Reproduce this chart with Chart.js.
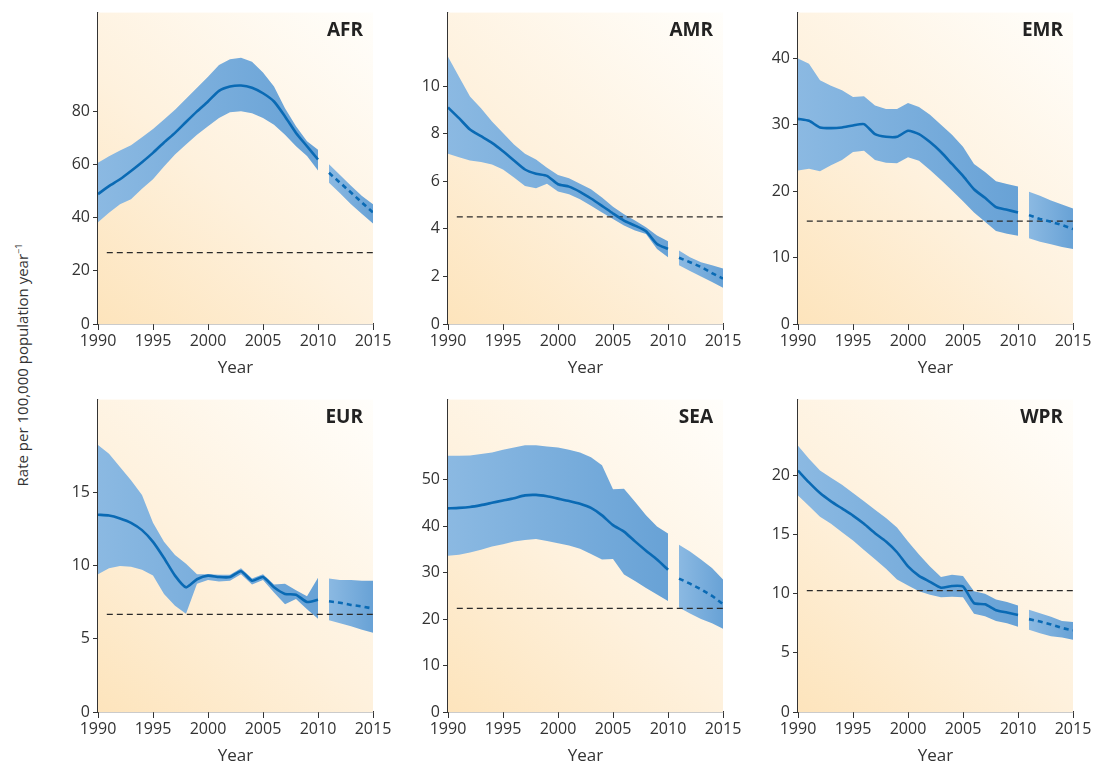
<!DOCTYPE html>
<html lang="en">
<head>
<meta charset="UTF-8">
<title>Rate per 100,000 population by WHO region</title>
<script src="https://cdn.jsdelivr.net/npm/chart.js"></script>
<style>
  html, body { margin: 0; padding: 0; background: #fff; overflow: hidden; }
  body { width: 1104px; height: 765px; position: relative; font-family: "Open Sans", sans-serif; }
  .panel { position: absolute; }
  #yTitle {
    position: absolute; left: 22px; top: 365px;
    transform: translate(-50%, -50%) rotate(-90deg);
    white-space: nowrap; font-size: 15px; color: #333;
  }
  #yTitle sup { font-size: 9px; }
</style>
</head>
<body>
<div id="yTitle">Rate per 100,000 population year<sup>−1</sup></div>
<canvas id="cAFR" class="panel"></canvas>
<canvas id="cAMR" class="panel"></canvas>
<canvas id="cEMR" class="panel"></canvas>
<canvas id="cEUR" class="panel"></canvas>
<canvas id="cSEA" class="panel"></canvas>
<canvas id="cWPR" class="panel"></canvas>
<script>
// years
const histYears = [1990, 1991, 1992, 1993, 1994, 1995, 1996, 1997, 1998, 1999, 2000,
                   2001, 2002, 2003, 2004, 2005, 2006, 2007, 2008, 2009, 2010];
const projYears = [2011, 2012, 2013, 2014, 2015];
const xTicks = [1990, 1995, 2000, 2005, 2010, 2015];

// AFR
const afrMean = [48.8, 51.8, 54.4, 57.5, 60.8, 64.3, 68.2, 71.8, 75.9, 79.9, 83.6, 87.6, 89.2, 89.6, 88.8, 86.7, 83.6, 78, 71.8, 66.8, 61.8];
const afrHigh = [60.6, 63, 65.2, 67.2, 70.2, 73.3, 76.8, 80.5, 84.6, 88.8, 92.9, 97.3, 99.5, 100, 98.5, 94.5, 89.2, 81.1, 74.3, 68.7, 65.5];
const afrLow  = [38.2, 41.8, 45, 46.9, 50.8, 54.4, 59.2, 63.7, 67.4, 71.1, 74.3, 77.4, 79.6, 79.9, 79.2, 77.4, 74.9, 71.1, 66.8, 63.1, 57.7];
const afrProjMean = [56.8, 53.1, 49.4, 45.6, 41.9];
const afrProjHigh = [60, 56, 51.9, 48.1, 45];
const afrProjLow  = [53.1, 49.1, 45, 41.3, 37.8];
const afrTarget = 26.8;
const afrTicks = [0, 20, 40, 60, 80];

// AMR
const amrMean = [9.11, 8.66, 8.18, 7.9, 7.62, 7.27, 6.88, 6.5, 6.32, 6.23, 5.88, 5.78, 5.56, 5.28, 4.97, 4.65, 4.35, 4.14, 3.9, 3.37, 3.16];
const amrHigh = [11.24, 10.4, 9.57, 9.08, 8.52, 8.04, 7.55, 7.16, 6.92, 6.57, 6.27, 6.13, 5.9, 5.67, 5.32, 4.93, 4.62, 4.35, 4.07, 3.72, 3.48];
const amrLow  = [7.16, 7.02, 6.88, 6.82, 6.71, 6.5, 6.16, 5.81, 5.71, 5.9, 5.57, 5.46, 5.25, 4.97, 4.69, 4.42, 4.14, 3.93, 3.79, 3.16, 2.81];
const amrProjMean = [2.79, 2.6, 2.4, 2.14, 1.91];
const amrProjHigh = [3.09, 2.81, 2.6, 2.47, 2.33];
const amrProjLow  = [2.47, 2.23, 2.0, 1.77, 1.53];
const amrTarget = 4.51;
const amrTicks = [0, 2, 4, 6, 8, 10];

// EMR
const emrMean = [30.9, 30.6, 29.6, 29.5, 29.6, 29.9, 30.1, 28.6, 28.2, 28.2, 29.1, 28.6, 27.4, 25.9, 24.1, 22.3, 20.3, 19, 17.6, 17.2, 16.8];
const emrHigh = [40, 39.2, 36.7, 35.9, 35.2, 34.2, 34.3, 32.9, 32.4, 32.4, 33.3, 32.7, 31.5, 30, 28.5, 26.7, 24.1, 22.9, 21.5, 21.1, 20.7];
const emrLow  = [23.1, 23.4, 23, 23.9, 24.7, 25.9, 26.1, 24.7, 24.3, 24.2, 25.1, 24.6, 23.2, 21.7, 20.1, 18.5, 16.8, 15.4, 14, 13.6, 13.3];
const emrProjMean = [16.4, 15.8, 15.4, 14.9, 14.3];
const emrProjHigh = [19.9, 19.3, 18.6, 18, 17.4];
const emrProjLow  = [12.9, 12.4, 12, 11.6, 11.3];
const emrTarget = 15.5;
const emrTicks = [0, 10, 20, 30, 40];

// EUR
const eurMean = [13.45, 13.4, 13.2, 12.9, 12.4, 11.6, 10.5, 9.3, 8.5, 9.05, 9.3, 9.2, 9.2, 9.6, 8.95, 9.2, 8.5, 8.05, 8, 7.5, 7.65];
const eurHigh = [18.2, 17.6, 16.7, 15.8, 14.8, 12.9, 11.6, 10.7, 10.1, 9.4, 9.4, 9.35, 9.35, 9.8, 9.1, 9.4, 8.7, 8.75, 8.3, 7.9, 9.15];
const eurLow  = [9.4, 9.8, 9.95, 9.9, 9.7, 9.3, 8.05, 7.25, 6.7, 8.75, 9, 8.9, 8.95, 9.4, 8.7, 9, 8.15, 7.35, 7.7, 7, 6.35];
const eurProjMean = [7.55, 7.45, 7.3, 7.2, 7.05];
const eurProjHigh = [9.1, 9, 9, 8.95, 8.95];
const eurProjLow  = [6.25, 6.05, 5.85, 5.6, 5.4];
const eurTarget = 6.65;
const eurTicks = [0, 5, 10, 15];

// SEA
const seaMean = [43.8, 43.9, 44.1, 44.5, 45, 45.5, 46, 46.6, 46.7, 46.4, 45.9, 45.4, 44.8, 43.9, 42.3, 40.2, 38.8, 36.7, 34.7, 32.8, 30.6];
const seaHigh = [55.1, 55.1, 55.2, 55.5, 55.8, 56.4, 56.9, 57.4, 57.4, 57.1, 56.9, 56.4, 55.8, 54.8, 53.1, 47.9, 48, 45.2, 42.3, 39.9, 38.4];
const seaLow  = [33.6, 33.8, 34.3, 34.9, 35.6, 36.1, 36.7, 37, 37.2, 36.8, 36.3, 35.8, 35.1, 34, 32.8, 32.9, 29.6, 28.2, 26.7, 25.3, 23.9];
const seaProjMean = [28.7, 27.6, 26.4, 25, 23.2];
const seaProjHigh = [36, 34.5, 32.8, 31, 28.5];
const seaProjLow  = [22.5, 21.2, 20, 19.1, 17.9];
const seaTarget = 22.3;
const seaTicks = [0, 10, 20, 30, 40, 50];

// WPR
const wprMean = [20.4, 19.4, 18.5, 17.8, 17.2, 16.6, 15.9, 15.1, 14.4, 13.5, 12.3, 11.5, 11, 10.5, 10.65, 10.6, 9.2, 9.1, 8.6, 8.4, 8.2];
const wprHigh = [22.5, 21.4, 20.4, 19.8, 19.2, 18.5, 17.8, 17.1, 16.4, 15.6, 14.4, 13.3, 12.3, 11.4, 11.6, 11.5, 10.2, 10, 9.5, 9.3, 9];
const wprLow  = [18.3, 17.4, 16.5, 15.9, 15.2, 14.5, 13.7, 12.9, 12.1, 11.2, 10.7, 10.2, 9.9, 9.7, 9.75, 9.7, 8.3, 8.1, 7.7, 7.5, 7.2];
const wprProjMean = [7.85, 7.65, 7.4, 7.1, 6.9];
const wprProjHigh = [8.65, 8.35, 8.05, 7.7, 7.6];
const wprProjLow  = [6.95, 6.65, 6.4, 6.3, 6.1];
const wprTarget = 10.25;
const wprTicks = [0, 5, 10, 15, 20];

const AXIS_W = 48, PAD_TOP = 10, PAD_RIGHT = 26, XAXIS_H = 54;
const lineBlue = '#0a6ab4';
const textCol = '#333';

// background wash of the plot area
const bgPlugin = {
  id: 'bgWash',
  beforeDatasetsDraw(chart) {
    const { ctx, chartArea: a } = chart;
    const g = ctx.createLinearGradient(a.left, a.bottom, a.right, a.top);
    g.addColorStop(0, '#fde4bc');
    g.addColorStop(0.45, '#fef1dd');
    g.addColorStop(1, '#fffefb');
    ctx.save();
    ctx.fillStyle = g;
    ctx.fillRect(a.left, a.top, a.right - a.left, a.bottom - a.top);
    ctx.restore();
  }
};

// region name in top right corner
const labelPlugin = {
  id: 'regionLabel',
  afterDraw(chart, args, opts) {
    const { ctx, chartArea: a } = chart;
    ctx.save();
    ctx.font = 'bold 19px "Open Sans", sans-serif';
    ctx.fillStyle = '#222';
    ctx.textAlign = 'right';
    ctx.textBaseline = 'alphabetic';
    ctx.fillText(opts.text, a.right - 10, a.top + 23);
    ctx.restore();
  }
};

function bandFill(x0, x1) {
  return function (context) {
    const chart = context.chart;
    if (!chart.chartArea) return '#7aaedb';
    const xs = chart.scales.x;
    const g = chart.ctx.createLinearGradient(xs.getPixelForValue(x0), 0, xs.getPixelForValue(x1), 0);
    g.addColorStop(0, '#8bb9e2');
    g.addColorStop(1, '#68a2d6');
    return g;
  };
}

function pts(xs, ys) {
  return xs.map((x, i) => ({ x: x, y: ys[i] }));
}

function makePanel(id, name, left, top, plotW, plotH, yMax, ticks, mean, low, high, pMean, pLow, pHigh, target) {
  const cv = document.getElementById(id);
  const W = AXIS_W + plotW + PAD_RIGHT;
  const H = PAD_TOP + plotH + XAXIS_H;
  cv.style.left = (left - AXIS_W) + 'px';
  cv.style.top = (top - PAD_TOP) + 'px';
  cv.style.width = W + 'px';
  cv.style.height = H + 'px';
  cv.width = W; cv.height = H;

  const datasets = [
    { data: pts(histYears, high), fill: '+1', backgroundColor: bandFill(1990, 2010), borderWidth: 0, pointRadius: 0, order: 3 },
    { data: pts(histYears, low), fill: false, borderWidth: 0, pointRadius: 0, order: 3 },
    { data: pts(projYears, pHigh), fill: '+1', backgroundColor: bandFill(2011, 2015), borderWidth: 0, pointRadius: 0, order: 3 },
    { data: pts(projYears, pLow), fill: false, borderWidth: 0, pointRadius: 0, order: 3 },
    { data: pts([1990.8, 2015], [target, target]), borderColor: '#2a2a2a', borderWidth: 1.2, borderDash: [6, 4], pointRadius: 0, fill: false, order: 2 },
    { data: pts(histYears, mean), borderColor: lineBlue, borderWidth: 2.6, pointRadius: 0, fill: false, tension: 0.2, order: 1 },
    { data: pts(projYears, pMean), borderColor: lineBlue, borderWidth: 2.6, borderDash: [5, 4], pointRadius: 0, fill: false, order: 1 }
  ];

  new Chart(cv, {
    type: 'line',
    data: { datasets: datasets },
    plugins: [bgPlugin, labelPlugin],
    options: {
      responsive: false,
      animation: false,
      events: [],
      layout: { padding: { top: PAD_TOP, right: PAD_RIGHT, left: 0, bottom: 0 } },
      plugins: {
        legend: { display: false },
        tooltip: { enabled: false },
        regionLabel: { text: name }
      },
      scales: {
        x: {
          type: 'linear', min: 1990, max: 2015,
          afterBuildTicks: s => { s.ticks = xTicks.map(v => ({ value: v })); },
          afterFit: s => { s.height = XAXIS_H; },
          ticks: { color: textCol, font: { family: 'Open Sans', size: 16 }, padding: 2, maxRotation: 0, autoSkip: false, callback: v => String(v) },
          grid: { display: true, drawOnChartArea: false, drawTicks: true, tickLength: 6, color: '#333', lineWidth: 1 },
          border: { display: true, color: '#333', width: 1.2 },
          title: { display: true, text: 'Year', color: textCol, font: { family: 'Open Sans', size: 17 }, padding: { top: 0, bottom: 0 } }
        },
        y: {
          type: 'linear', min: 0, max: yMax,
          afterBuildTicks: s => { s.ticks = ticks.map(v => ({ value: v })); },
          afterFit: s => { s.width = AXIS_W; },
          ticks: { color: textCol, font: { family: 'Open Sans', size: 16 }, padding: 3, autoSkip: false, callback: v => String(v) },
          grid: { display: true, drawOnChartArea: false, drawTicks: true, tickLength: 5, color: '#333', lineWidth: 1 },
          border: { display: true, color: '#333', width: 1.2 }
        }
      }
    }
  });
}

makePanel('cAFR', 'AFR', 98, 10, 275, 314, 117, afrTicks, afrMean, afrLow, afrHigh, afrProjMean, afrProjLow, afrProjHigh, afrTarget);
makePanel('cAMR', 'AMR', 448, 10, 275, 314, 13.1, amrTicks, amrMean, amrLow, amrHigh, amrProjMean, amrProjLow, amrProjHigh, amrTarget);
makePanel('cEMR', 'EMR', 798, 10, 275, 314, 46.9, emrTicks, emrMean, emrLow, emrHigh, emrProjMean, emrProjLow, emrProjHigh, emrTarget);
makePanel('cEUR', 'EUR', 98, 397, 275, 315, 21.3, eurTicks, eurMean, eurLow, eurHigh, eurProjMean, eurProjLow, eurProjHigh, eurTarget);
makePanel('cSEA', 'SEA', 448, 397, 275, 315, 67.2, seaTicks, seaMean, seaLow, seaHigh, seaProjMean, seaProjLow, seaProjHigh, seaTarget);
makePanel('cWPR', 'WPR', 798, 397, 275, 315, 26.4, wprTicks, wprMean, wprLow, wprHigh, wprProjMean, wprProjLow, wprProjHigh, wprTarget);
</script>
</body>
</html>
